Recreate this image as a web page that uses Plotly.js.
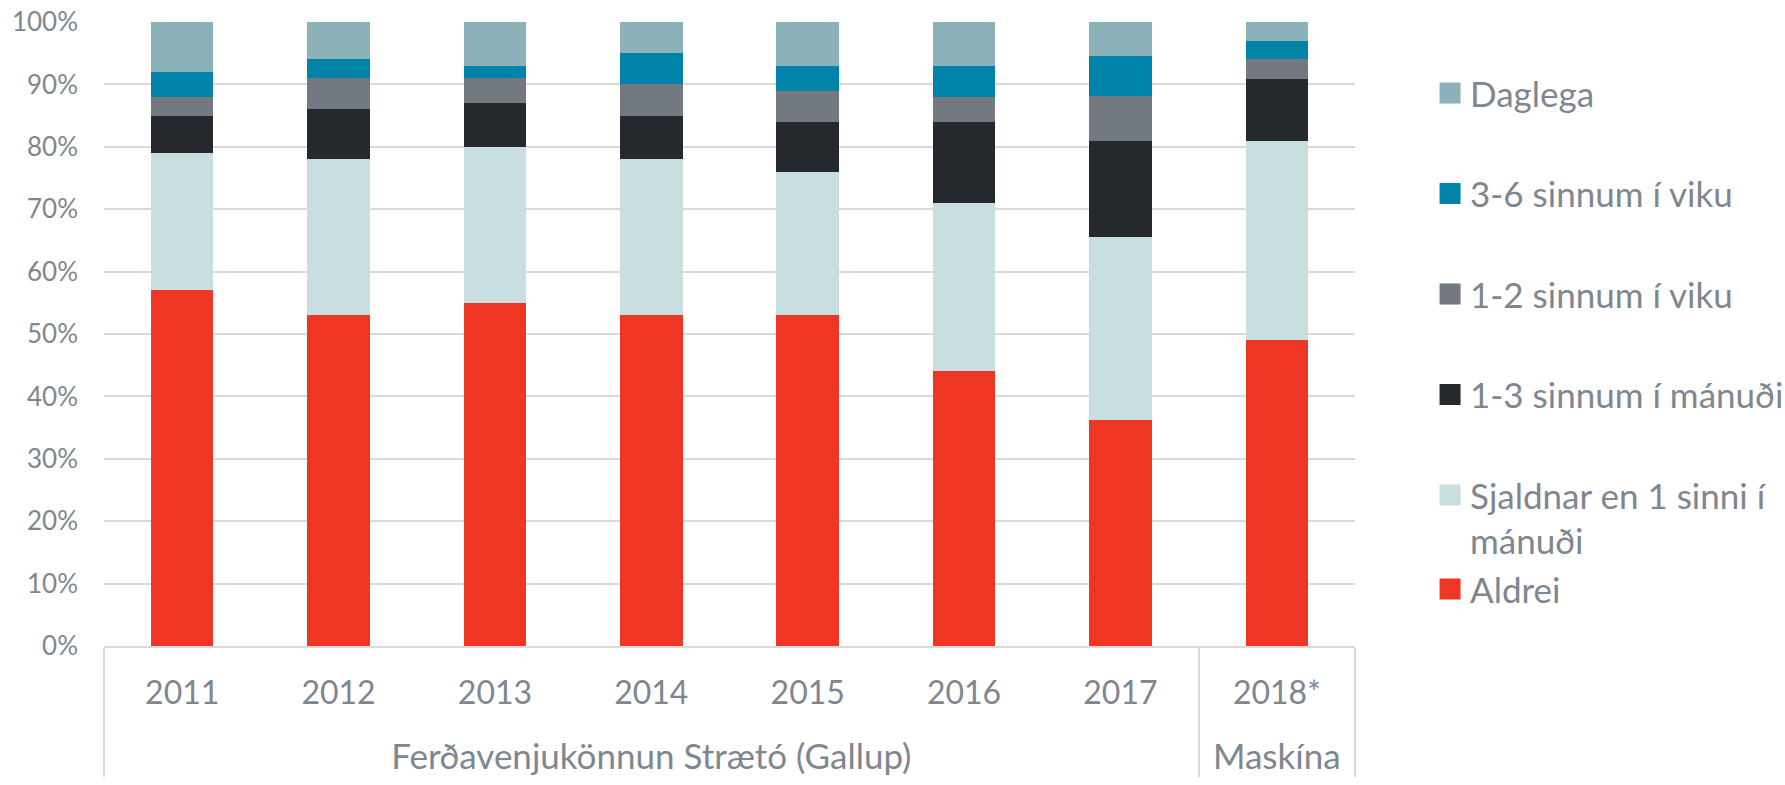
<!DOCTYPE html>
<html>
<head>
<meta charset="utf-8">
<script src="https://cdn.plot.ly/plotly-3.0.1.min.js"></script>
<style>html,body{margin:0;padding:0;background:#fff}</style>
</head>
<body>
<div id="chart" style="width:1785px;height:785px"></div>
<script>
// survey year and source (two-level category axis)
var years = ["2011", "2012", "2013", "2014", "2015", "2016", "2017", "2018*"];
var gallup = "Ferðavenjukönnun Strætó (Gallup)";
var sources = [gallup, gallup, gallup, gallup, gallup, gallup, gallup, "Maskína"];

// share of respondents (%), bottom of stack first
var aldrei   = [57, 53, 55, 53, 53, 44, 36.2, 49];
var sjaldnar = [22, 25, 25, 25, 23, 27, 29.3, 31.9];
var manudi13 = [6, 8, 7, 7, 8, 13, 15.5, 10];
var viku12   = [3, 5, 4, 5, 5, 4, 7.2, 3.2];
var viku36   = [4, 3, 2, 5, 4, 5, 6.3, 2.9];
var daglega  = [8, 6, 7, 5, 7, 7, 5.5, 3];

var names = ["Aldrei", "Sjaldnar en 1 sinni í<br>mánuði", "1-3 sinnum í mánuði",
             "1-2 sinnum í viku", "3-6 sinnum í viku", "Daglega"];
var colors = ["#ef3524", "#c9dee0", "#25282d", "#737980", "#0083a9", "#8ab2b8"];
var series = [aldrei, sjaldnar, manudi13, viku12, viku36, daglega];
// the two bottom entries share a group so they sit close in the legend
var groups = ["low", "low", "g2", "g3", "g4", "g5"];

var textGray = "#80868f";
var lineGray = "#d9d9d9";

// outer level labels a bit larger; an empty second line under each year
// pushes the source row further down, as in the original
var sourceLabels = sources.map(function (s) {
  return '<span style="font-size:35px">' + s + '</span>';
});
var yearLabels = years.map(function (y) { return y + "<br>\u00a0"; });

var data = [];
series.forEach(function (vals, i) {
  data.push({
    type: "bar",
    name: names[i],
    x: [sourceLabels, yearLabels],
    y: vals,
    showlegend: false,
    marker: {color: colors[i], line: {width: 0}},
    hovertemplate: "%{y}%<extra></extra>"
  });
});
// legend-only entries, so the colour keys can be drawn as larger squares
series.forEach(function (vals, i) {
  data.push({
    type: "scatter",
    mode: "markers",
    name: names[i],
    x: [[sourceLabels[0]], [yearLabels[0]]],
    y: [null],
    legendgroup: groups[i],
    legendrank: 1000 - i,
    marker: {symbol: "square", size: 16, color: colors[i],
             line: {width: 5, color: colors[i]}},
    hoverinfo: "skip"
  });
});

var layout = {
  width: 1785,
  height: 785,
  margin: {l: 104, r: 430, t: 22, b: 139, autoexpand: false},
  barmode: "stack",
  bargap: 0.6,
  paper_bgcolor: "#fff",
  plot_bgcolor: "#fff",
  font: {family: "Lato, 'Open Sans', sans-serif", color: textGray},
  showlegend: true,
  legend: {
    x: 1.06, xanchor: "left",
    y: 0.933, yanchor: "top",
    traceorder: "grouped",
    tracegroupgap: 52,
    valign: "top",
    itemsizing: "trace",
    font: {size: 35, color: textGray}
  },
  xaxis: {
    type: "multicategory",
    automargin: false,
    showline: true,
    linecolor: lineGray,
    linewidth: 1.5,
    showgrid: false,
    showdividers: true,
    dividercolor: lineGray,
    dividerwidth: 1.5,
    ticks: "",
    tickfont: {size: 32, color: textGray},
    ticklabelstandoff: 18
  },
  yaxis: {
    range: [0, 100],
    dtick: 10,
    ticksuffix: "%",
    showgrid: true,
    gridcolor: lineGray,
    gridwidth: 1.5,
    zeroline: false,
    showline: false,
    ticks: "",
    tickfont: {size: 26, color: textGray},
    ticklabelstandoff: 25
  }
};

Plotly.newPlot("chart", data, layout, {displayModeBar: false, responsive: false});
</script>
</body>
</html>
